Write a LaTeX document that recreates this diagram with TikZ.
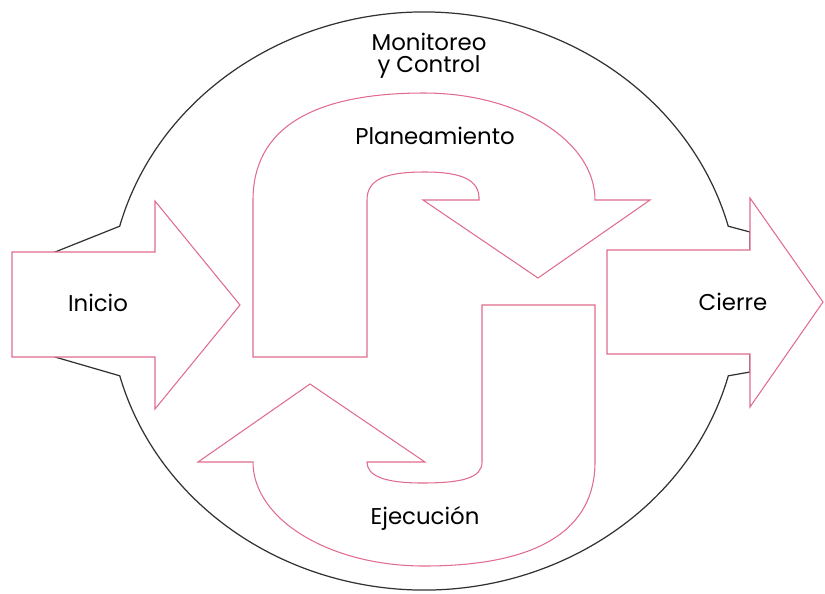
\documentclass[tikz,border=0pt]{standalone}
\usepackage{fontspec}
\setmainfont{Poppins}
\usepackage{tikz}
\usetikzlibrary{positioning}
\definecolor{phasepink}{RGB}{224,108,142}
\definecolor{rimgray}{RGB}{50,50,50}

\begin{document}
\begin{tikzpicture}[x=0.02cm, y=-0.02cm,
    phase/.style={draw=phasepink, line width=0.6pt, fill=white},
    lbl/.style={font=\fontsize{13}{12.5}\selectfont, inner sep=0pt, align=center}]
  \useasboundingbox (0,0) rectangle (825,593);
  % outer cycle with its two side tabs
  \draw[rimgray, line width=0.7pt] (119.7,226.2) arc[start angle=195, end angle=345, x radius=315, y radius=289]
    -- (750,232) -- (750,372) -- (728.3,375.8) arc[start angle=15, end angle=165, x radius=315, y radius=289]
    -- (55,357) -- (55,252) -- cycle;
  % side arrows
  \draw[phase] (12,252) -- (155,252) -- (155,201) -- (240,305) -- (155,409) -- (155,357) -- (12,357) -- cycle;
  \draw[phase] (607,250) -- (750,250) -- (750,198) -- (823,302) -- (750,407) -- (750,354) -- (607,354) -- cycle;
  % planning arrow
  \draw[phase] (253,357) -- (253,200) .. controls (253,130) and (310,93) .. (424,93)
    arc[start angle=270, end angle=360, x radius=171, y radius=107]
    -- (650,200) -- (538,278) -- (423,200) -- (479,200) .. controls (480,180) and (462,172) .. (425,172)
    .. controls (388,172) and (367,178) .. (367,200) -- (367,357) -- cycle;
  % execution arrow
  \draw[phase] (595,305) -- (595,462) .. controls (595,530) and (538,566) .. (424,566)
    arc[start angle=90, end angle=180, x radius=171, y radius=104]
    -- (198,462) -- (310,384) -- (425,462) -- (367,462) .. controls (367,476) and (385,483) .. (422,483)
    .. controls (462,483) and (482,478) .. (482,462) -- (482,305) -- cycle;
  \node[lbl] (monitor) at (429,56) {Monitoreo\\y Control};
  \node[lbl] (plan) at (435,136) {Planeamiento};
  \node[lbl] (exec) at (425,518) {Ejecución};
  \node[lbl] (start) at (98,303) {Inicio};
  \node[lbl] (close) at (733,302) {Cierre};
\end{tikzpicture}
\end{document}
